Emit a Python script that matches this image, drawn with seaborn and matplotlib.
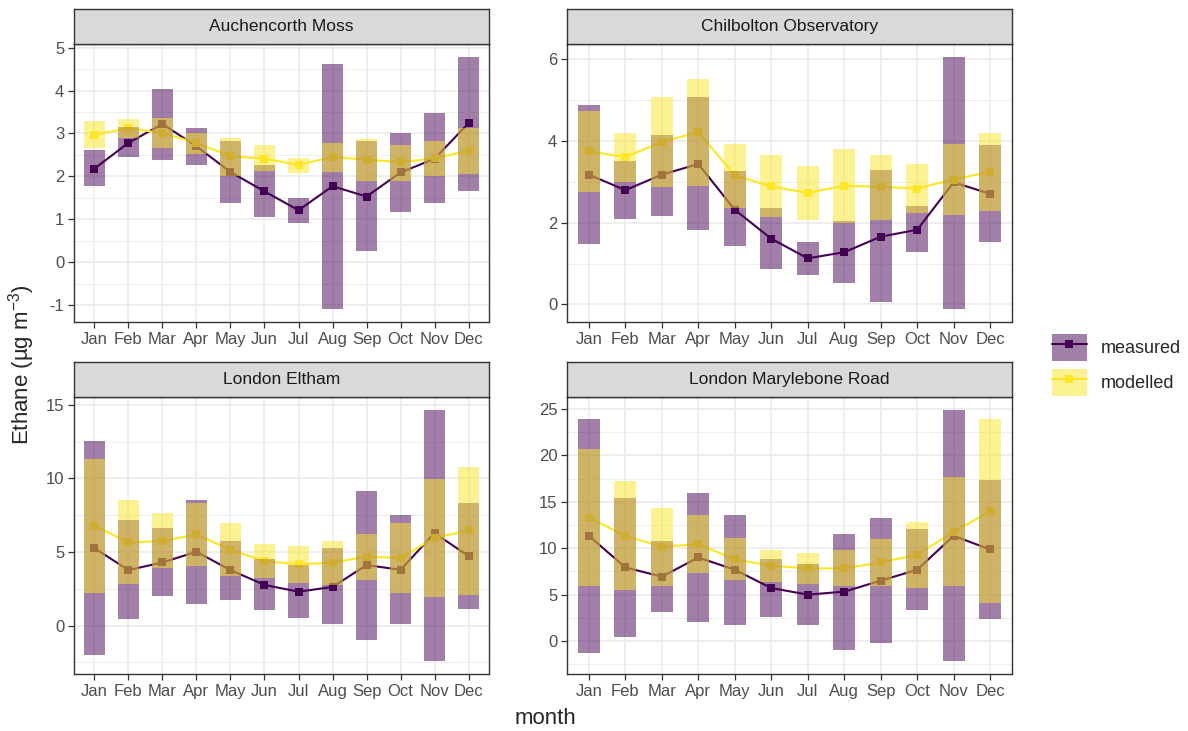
import numpy as np
import pandas as pd
import matplotlib
matplotlib.use("Agg")
import matplotlib.pyplot as plt
import seaborn as sns
from matplotlib.patches import Patch
from matplotlib.lines import Line2D
from matplotlib.ticker import MultipleLocator

months = ["Jan", "Feb", "Mar", "Apr", "May", "Jun", "Jul", "Aug", "Sep", "Oct", "Nov", "Dec"]
sites = ["Auchencorth Moss", "Chilbolton Observatory", "London Eltham", "London Marylebone Road"]

# Auchencorth Moss
auch_meas_mean = [2.18, 2.78, 3.22, 2.70, 2.10, 1.65, 1.21, 1.77, 1.53, 2.09, 2.41, 3.24]
auch_meas_lo = [1.77, 2.45, 2.39, 2.27, 1.39, 1.05, 0.91, -1.10, 0.27, 1.18, 1.38, 1.67]
auch_meas_hi = [2.61, 3.15, 4.04, 3.13, 2.82, 2.27, 1.50, 4.63, 2.82, 3.01, 3.48, 4.79]
auch_mod_mean = [2.97, 3.12, 3.01, 2.78, 2.47, 2.41, 2.27, 2.45, 2.39, 2.33, 2.42, 2.60]
auch_mod_lo = [2.65, 2.90, 2.66, 2.53, 2.00, 2.12, 2.08, 2.10, 1.90, 1.90, 2.00, 2.06]
auch_mod_hi = [3.29, 3.34, 3.35, 3.01, 2.90, 2.72, 2.43, 2.78, 2.86, 2.74, 2.82, 3.13]

# Chilbolton Observatory
chil_meas_mean = [3.18, 2.80, 3.18, 3.44, 2.32, 1.61, 1.13, 1.28, 1.66, 1.83, 2.99, 2.71]
chil_meas_lo = [1.48, 2.10, 2.17, 1.83, 1.42, 0.87, 0.72, 0.52, 0.05, 1.28, -0.12, 1.54]
chil_meas_hi = [4.88, 3.51, 4.16, 5.07, 3.26, 2.36, 1.52, 2.05, 3.30, 2.40, 6.07, 3.90]
chil_mod_mean = [3.75, 3.61, 3.98, 4.22, 3.16, 2.89, 2.73, 2.91, 2.88, 2.84, 3.06, 3.25]
chil_mod_lo = [2.75, 2.99, 2.88, 2.89, 2.36, 2.14, 2.07, 2.00, 2.07, 2.24, 2.18, 2.30]
chil_mod_hi = [4.75, 4.20, 5.09, 5.53, 3.94, 3.65, 3.40, 3.82, 3.67, 3.45, 3.94, 4.19]

# London Eltham
elth_meas_mean = [5.26, 3.77, 4.29, 5.01, 3.77, 2.76, 2.30, 2.62, 4.11, 3.79, 6.28, 4.72]
elth_meas_lo = [-1.99, 0.41, 2.01, 1.49, 1.76, 1.04, 0.50, 0.11, -0.97, 0.09, -2.44, 1.13]
elth_meas_hi = [12.54, 7.18, 6.64, 8.56, 5.76, 4.52, 4.11, 5.24, 9.15, 7.54, 14.68, 8.34]
elth_mod_mean = [6.78, 5.65, 5.74, 6.19, 5.15, 4.38, 4.16, 4.27, 4.68, 4.59, 5.96, 6.46]
elth_mod_lo = [2.24, 2.82, 3.91, 4.04, 3.37, 3.21, 2.89, 2.78, 3.12, 2.24, 1.97, 2.08]
elth_mod_hi = [11.34, 8.52, 7.63, 8.36, 6.96, 5.53, 5.40, 5.76, 6.21, 6.96, 9.94, 10.80]

# London Marylebone Road
mary_meas_mean = [11.34, 7.94, 6.94, 9.01, 7.69, 5.72, 5.01, 5.33, 6.51, 7.69, 11.34, 9.87]
mary_meas_lo = [-1.25, 0.50, 3.18, 2.11, 1.75, 2.58, 1.75, -0.93, -0.18, 3.40, -2.18, 2.40]
mary_meas_hi = [23.96, 15.45, 10.73, 15.99, 13.59, 8.83, 8.30, 11.52, 13.30, 12.05, 24.93, 17.35]
mary_mod_mean = [13.30, 11.34, 10.16, 10.44, 8.80, 8.12, 7.83, 7.83, 8.48, 9.30, 11.77, 13.98]
mary_mod_lo = [5.90, 5.47, 5.90, 7.33, 6.62, 6.40, 6.15, 5.90, 5.90, 5.69, 5.90, 4.08]
mary_mod_hi = [20.74, 17.20, 14.38, 13.59, 11.09, 9.84, 9.48, 9.84, 10.98, 12.88, 17.67, 23.93]

site_data = {
    "Auchencorth Moss": (auch_meas_mean, auch_meas_lo, auch_meas_hi, auch_mod_mean, auch_mod_lo, auch_mod_hi),
    "Chilbolton Observatory": (chil_meas_mean, chil_meas_lo, chil_meas_hi, chil_mod_mean, chil_mod_lo, chil_mod_hi),
    "London Eltham": (elth_meas_mean, elth_meas_lo, elth_meas_hi, elth_mod_mean, elth_mod_lo, elth_mod_hi),
    "London Marylebone Road": (mary_meas_mean, mary_meas_lo, mary_meas_hi, mary_mod_mean, mary_mod_lo, mary_mod_hi),
}
y_steps = [1, 2, 5, 5]

rows = []
for site, (mm, ml, mh, dm, dl, dh) in site_data.items():
    for i, m in enumerate(months):
        rows.append([site, "measured", i, m, mm[i], ml[i], mh[i]])
        rows.append([site, "modelled", i, m, dm[i], dl[i], dh[i]])
df = pd.DataFrame(rows, columns=["site", "type", "m", "month", "mean", "lo", "hi"])

pal = {"measured": "#440154", "modelled": "#FDE725"}

sns.set_theme(style="white")
plt.rcParams["font.family"] = ["Liberation Sans", "DejaVu Sans"]
plt.rcParams["mathtext.fontset"] = "custom"
plt.rcParams["mathtext.rm"] = "Liberation Sans"
plt.rcParams["axes.unicode_minus"] = False

W, H = 1188, 731
fig = plt.figure(figsize=(W / 100, H / 100), dpi=100)

# panel boxes in pixels: (left, right, top, bottom)
boxes = [(74, 489, 44, 322), (567, 1012, 44, 322),
         (74, 489, 397, 674), (567, 1012, 397, 674)]
strip_h = 35

for site, step, (l, r, t, b) in zip(sites, y_steps, boxes):
    ax = fig.add_axes([l / W, 1 - b / H, (r - l) / W, (b - t) / H])
    sub = df[df.site == site]
    sns.lineplot(data=sub, x="m", y="mean", hue="type", palette=pal, marker="s",
                 markersize=6.2, markeredgewidth=0, linewidth=1.5, errorbar=None,
                 legend=False, ax=ax, zorder=2)
    for t_ in ["measured", "modelled"]:
        s = sub[sub.type == t_]
        ax.bar(s.m, s.hi - s.lo, bottom=s.lo, width=0.6, color=pal[t_],
               alpha=0.5, linewidth=0, zorder=3)
    lo, hi = sub.lo.min(), sub.hi.max()
    pad = (hi - lo) * 0.05
    ax.set_ylim(lo - pad, hi + pad)
    ax.set_xlim(-0.6, len(months) - 0.4)
    ax.set_xticks(range(len(months)))
    ax.set_xticklabels(months)
    ax.yaxis.set_major_locator(MultipleLocator(step))
    ax.yaxis.set_minor_locator(MultipleLocator(step / 2))
    ax.set_axisbelow(True)
    ax.grid(which="major", color="#EBEBEB", linewidth=1.2)
    ax.grid(which="minor", axis="y", color="#EBEBEB", linewidth=0.6)
    ax.set_xlabel("")
    ax.set_ylabel("")
    ax.tick_params(which="major", length=4, width=0.9, color="#333333",
                   labelsize=12, labelcolor="#4D4D4D", pad=3,
                   bottom=True, left=True)
    ax.tick_params(which="minor", length=0)
    for sp in ax.spines.values():
        sp.set_color("#333333")
        sp.set_linewidth(1.0)

    sax = fig.add_axes([l / W, 1 - t / H, (r - l) / W, strip_h / H])
    sax.set_facecolor("#D9D9D9")
    sax.set_xticks([])
    sax.set_yticks([])
    for sp in sax.spines.values():
        sp.set_color("#333333")
        sp.set_linewidth(1.0)
    sax.text(0.5, 0.5, site, ha="center", va="center", fontsize=12.5,
             color="#1A1A1A", transform=sax.transAxes)

fig.text(22 / W, 1 - 365 / H, "Ethane (µg m$^{-3}$)", rotation=90,
         ha="center", va="center", fontsize=16)
fig.text(545 / W, 1 - 718 / H, "month", ha="center", va="center", fontsize=16)

handles = []
for t_ in ["measured", "modelled"]:
    handles.append((Patch(facecolor=pal[t_], alpha=0.5, linewidth=0),
                    Line2D([], [], color=pal[t_], linewidth=1.5, marker="s",
                           markersize=6.2, markeredgewidth=0)))
fig.legend(handles, ["measured", "modelled"], loc="center left",
           bbox_to_anchor=(1036 / W, 1 - 365 / H), frameon=False, fontsize=13,
           handlelength=1.9, handleheight=1.9, labelspacing=0.45, handletextpad=0.8)

fig.savefig("out.png", dpi=100)
